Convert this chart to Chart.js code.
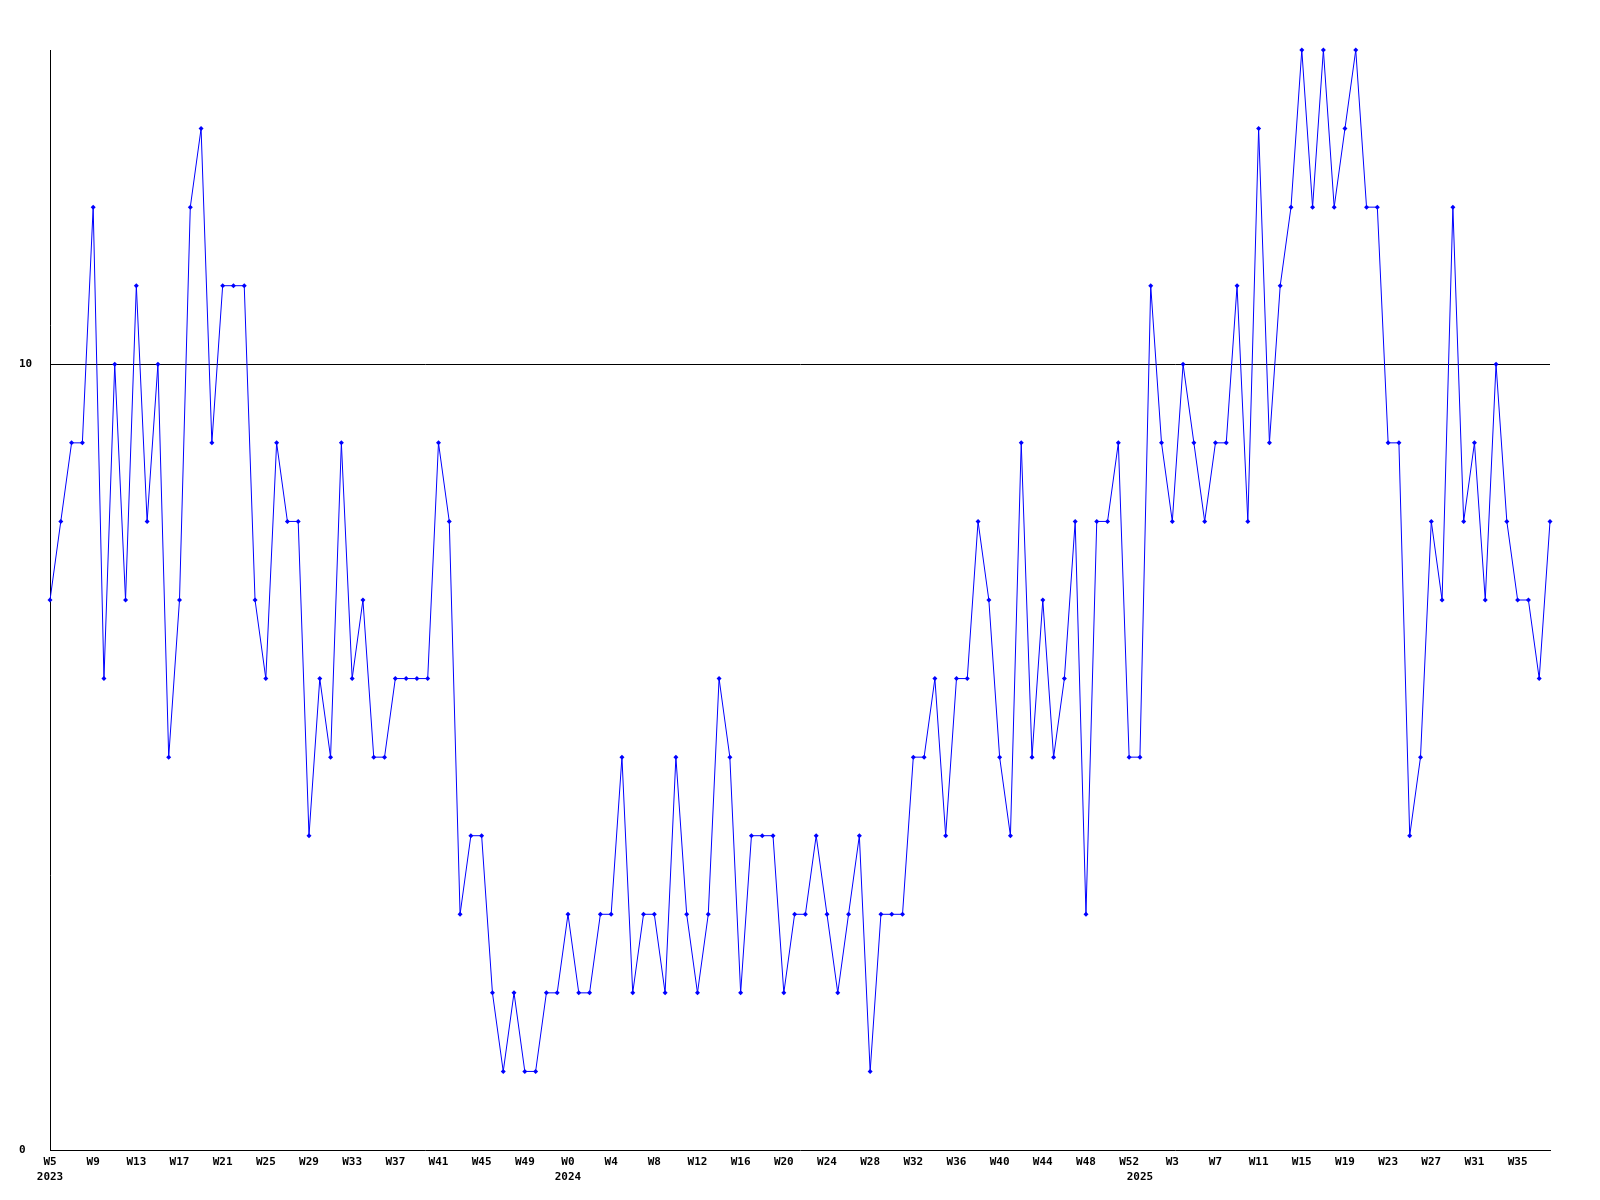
<!DOCTYPE html>
<html>
<head>
<meta charset="utf-8">
<script src="https://cdn.jsdelivr.net/npm/chart.js@4/dist/chart.umd.min.js"></script>
<style>
  html, body { margin: 0; padding: 0; background: #fff; }
  canvas { display: block; }
</style>
</head>
<body>
<canvas id="weekChart" width="1600" height="1200"></canvas>
<script>
// Weeks covered by the series, per year
const years = [2023, 2024, 2025];
const firstWeek = [5, 0, 0];
const lastWeek = [52, 52, 38];

// One value per week, W5 2023 .. W38 2025
const counts = [
  7, 8, 9, 9, 12, 6, 10, 7, 11, 8, 10, 5, 7, 12, 13, 9, 11, 11, 11, 7, 6, 9, 8, 8,
  4, 6, 5, 9, 6, 7, 5, 5, 6, 6, 6, 6, 9, 8, 3, 4, 4, 2, 1, 2, 1, 1, 2,
  2, 3, 2, 2, 3, 3, 5, 2, 3, 3, 2, 5, 3, 2, 3, 6, 5, 2, 4, 4, 4, 2, 3,
  3, 4, 3, 2, 3, 4, 1, 3, 3, 3, 5, 5, 6, 4, 6, 6, 8, 7, 5, 4, 9, 5, 7,
  5, 6, 8, 3, 8, 8, 9, 5, 5, 11, 9, 8, 10, 9, 8, 9, 9, 11, 8, 13, 9, 11, 12,
  14, 12, 14, 12, 13, 14, 12, 12, 9, 9, 4, 5, 8, 7, 12, 8, 9, 7, 10, 8, 7, 7, 6, 8
];

const yTicks = [0, 10];
const labelEvery = 4;

// build week / year label table
const weekLabels = [];
const yearAt = {};
years.forEach((y, i) => {
  yearAt[weekLabels.length] = String(y);
  for (let w = firstWeek[i]; w <= lastWeek[i]; w++) weekLabels.push('W' + w);
});

const font = { family: '"DejaVu Sans Mono", monospace', size: 11, weight: 'bold', lineHeight: '15px' };
Chart.defaults.color = '#000';

new Chart(document.getElementById('weekChart').getContext('2d'), {
  type: 'line',
  data: {
    labels: weekLabels,
    datasets: [{
      data: counts,
      borderColor: '#0000ff',
      backgroundColor: '#0000ff',
      borderWidth: 1,
      tension: 0,
      pointStyle: 'rectRot',
      pointRadius: 2.5,
      pointBorderWidth: 0,
      clip: false
    }]
  },
  options: {
    responsive: false,
    animation: false,
    events: [],
    layout: { padding: { top: 50, right: 50, left: 19, bottom: 0 } },
    plugins: { legend: { display: false }, tooltip: { enabled: false } },
    scales: {
      x: {
        type: 'category',
        offset: false,
        grid: { display: false, drawTicks: false, tickLength: 0 },
        border: { display: true, color: '#000', width: 1 },
        afterFit: s => { s.height = 50; },
        ticks: {
          autoSkip: false,
          maxRotation: 0,
          minRotation: 0,
          padding: 5,
          font: font,
          callback: (v, i) => {
            const yr = yearAt[i];
            if (i % labelEvery === 0) return yr ? [weekLabels[i], yr] : weekLabels[i];
            if (yr) return ['', yr];
            return '';
          }
        }
      },
      y: {
        min: 0,
        max: 14,
        afterBuildTicks: s => { s.ticks = yTicks.map(v => ({ value: v })); },
        afterFit: s => { s.width = 31; },
        grid: {
          drawTicks: false,
          tickLength: 0,
          lineWidth: 1,
          color: c => (c.tick && c.tick.value === 10 ? '#000' : 'rgba(0,0,0,0)')
        },
        border: { display: true, color: '#000', width: 1 },
        ticks: { crossAlign: 'far', font: font, padding: 0 }
      }
    }
  }
});
</script>
</body>
</html>
